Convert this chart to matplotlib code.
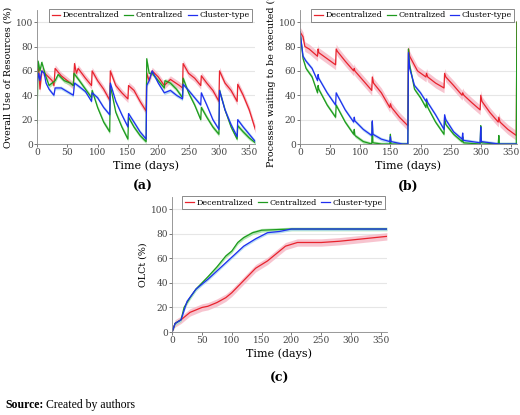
import matplotlib
matplotlib.use("Agg")
import matplotlib.pyplot as plt
import numpy as np

plt.rcParams["font.family"] = ["DejaVu Serif"]
plt.rcParams["mathtext.fontset"] = "dejavuserif"

SERIES = ["Decentralized", "Centralized", "Cluster-type"]
COLORS = ["#e8232d", "#1e9a1e", "#1f2ef0"]
BANDS = ["#f6b6c4", "#9ee09e", "#a8d4f0"]

# ---- panel (a): overall use of resources ----
a_dec_x = [0, 3, 5, 8, 15, 25, 28, 30, 40, 50, 60, 62, 65, 68, 80, 90, 91, 100, 110, 120, 121, 130, 140, 150, 151, 160, 170, 180,
           181, 185, 190, 200, 210, 220, 235, 240, 241, 250, 260, 270, 271, 280, 290, 300, 301, 310, 320, 330, 331, 340, 350, 360]
a_dec_y = [58, 62, 45, 60, 57, 52, 48, 62, 56, 52, 48, 66, 58, 62, 54, 48, 60, 52, 45, 36, 60, 48, 42, 37, 48, 44, 35, 27,
           58, 52, 60, 55, 48, 53, 48, 46, 66, 58, 54, 48, 56, 50, 44, 35, 60, 50, 44, 35, 49, 40, 28, 12]
a_cen_x = [0, 2, 5, 8, 15, 20, 25, 30, 35, 45, 55, 60, 61, 70, 80, 90, 91, 100, 110, 120, 121, 130, 140, 150, 151, 160, 170, 180,
           181, 185, 190, 200, 210, 211, 220, 230, 240, 241, 250, 260, 270, 271, 280, 290, 300, 301, 310, 320, 330, 331, 340, 350, 360]
a_cen_y = [17, 68, 60, 67, 55, 48, 50, 52, 57, 52, 50, 48, 58, 52, 45, 38, 44, 30, 18, 10, 48, 26, 14, 4, 22, 14, 7, 2,
           70, 58, 58, 52, 46, 52, 50, 45, 38, 54, 42, 32, 20, 30, 22, 14, 8, 44, 28, 14, 4, 15, 10, 5, 1]
a_clu_x = [0, 3, 5, 8, 12, 15, 20, 28, 30, 40, 50, 60, 62, 70, 80, 90, 91, 100, 110, 120, 121, 130, 140, 150, 151, 160, 170, 180,
           181, 185, 190, 200, 210, 220, 230, 240, 241, 250, 260, 270, 271, 280, 290, 300, 301, 310, 320, 330, 331, 340, 350, 360]
a_clu_y = [50, 58, 52, 60, 58, 50, 45, 40, 46, 46, 43, 40, 50, 47, 43, 35, 42, 38, 30, 24, 50, 35, 24, 14, 25, 18, 10, 4,
           48, 52, 60, 50, 42, 44, 40, 37, 49, 44, 38, 32, 42, 32, 20, 12, 44, 28, 16, 6, 20, 14, 8, 2]

# ---- panel (b): processes waiting to be executed ----
b_dec_x = [0, 5, 8, 15, 29, 30, 31, 45, 59, 60, 62, 75, 89, 90, 91, 105, 119, 120, 122, 135, 149, 150, 152, 165, 179,
           180, 182, 195, 209, 210, 212, 225, 239, 240, 242, 255, 269, 270, 272, 285, 299, 300, 302, 315, 329, 330, 332, 345, 359, 360]
b_dec_y = [92, 88, 80, 78, 72, 78, 75, 70, 65, 78, 76, 68, 60, 62, 60, 52, 44, 55, 50, 42, 30, 33, 30, 22, 15,
           78, 72, 60, 55, 58, 55, 50, 46, 58, 55, 48, 40, 42, 40, 34, 28, 40, 35, 26, 18, 22, 18, 12, 7, 100]
b_cen_x = [0, 5, 10, 20, 29, 30, 31, 45, 59, 60, 62, 75, 89, 90, 91, 105, 119, 120, 121, 135, 149, 150, 151, 179,
           180, 182, 190, 200, 209, 210, 212, 225, 239, 240, 242, 255, 269, 270, 271, 299, 300, 301, 329, 330, 331, 359, 360]
b_cen_y = [92, 70, 62, 55, 42, 48, 45, 32, 22, 32, 30, 18, 8, 12, 7, 2, 0, 18, 1, 0, 0, 8, 0, 0,
           78, 65, 45, 38, 30, 35, 30, 18, 8, 22, 16, 8, 2, 6, 1, 0, 15, 1, 0, 7, 0, 0, 100]
b_clu_x = [0, 5, 10, 20, 29, 30, 31, 45, 59, 60, 62, 75, 89, 90, 91, 105, 119, 120, 121, 135, 149, 150, 151, 170, 179,
           180, 182, 190, 200, 209, 210, 212, 225, 239, 240, 242, 255, 269, 270, 271, 299, 300, 301, 330, 360]
b_clu_y = [92, 72, 68, 62, 52, 57, 54, 42, 32, 42, 40, 28, 18, 22, 19, 12, 7, 19, 8, 4, 2, 6, 2, 0, 0,
           75, 62, 48, 42, 35, 37, 34, 24, 12, 24, 20, 10, 4, 9, 3, 1, 14, 2, 0, 0]

# ---- panel (c): OLCt ----
c_dec_x = [0, 5, 15, 30, 50, 60, 75, 90, 100, 120, 140, 160, 175, 190, 210, 250, 280, 320, 360]
c_dec_y = [0, 7, 10, 16, 20, 21, 24, 28, 32, 42, 52, 58, 64, 70, 73, 73, 74, 76, 78]
c_cen_x = [0, 5, 15, 20, 30, 40, 50, 60, 75, 90, 100, 110, 120, 135, 150, 200, 360]
c_cen_y = [0, 7, 10, 20, 28, 35, 40, 45, 53, 62, 66, 73, 77, 81, 83, 84, 84]
c_clu_x = [0, 5, 15, 25, 40, 60, 80, 100, 120, 140, 160, 180, 190, 200, 360]
c_clu_y = [0, 7, 10, 25, 35, 43, 52, 61, 70, 76, 81, 82, 83, 84, 84]

BAND_A = [3.0, 1.8, 1.5]
BAND_B = [4.0, 1.5, 1.5]
BAND_C = [3.0, 1.5, 1.2]

fig = plt.figure(figsize=(5.2, 4.15), dpi=100)


def panel(rect, data, bands, ylabel):
    ax = fig.add_axes(rect)
    for (x, y), c, b, hw, name in zip(data, COLORS, BANDS, bands, SERIES):
        x = np.array(x, float)
        y = np.array(y, float)
        ax.fill_between(x, np.clip(y - hw, 0, 100), np.clip(y + hw, 0, 100), color=b, alpha=0.8, lw=0)
        ax.plot(x, y, color=c, lw=0.9, label=name)
    ax.set_xlim(0, 360)
    ax.set_ylim(0, 110)
    ax.set_xticks(range(0, 351, 50))
    ax.set_yticks(range(0, 101, 20))
    ax.yaxis.grid(True, color="#e6e6e6", lw=0.8)
    ax.set_axisbelow(True)
    for s in ["top", "right"]:
        ax.spines[s].set_visible(False)
    for s in ["left", "bottom"]:
        ax.spines[s].set_color("#888888")
        ax.spines[s].set_linewidth(0.6)
    ax.tick_params(labelsize=6.5, length=2, width=0.5, pad=1, colors="#444444")
    ax.set_xlabel("Time (days)", fontsize=8, labelpad=2)
    ax.set_ylabel(ylabel, fontsize=6.8, labelpad=2)
    leg = ax.legend(loc="upper center", bbox_to_anchor=(0.52, 1.04), ncol=3, fontsize=5.8,
                    handlelength=1.1, handletextpad=0.3, columnspacing=0.6,
                    fancybox=False, edgecolor="#555555", borderpad=0.35)
    leg.get_frame().set_linewidth(0.6)
    return ax


panel([0.071, 0.653, 0.42, 0.323],
      [(a_dec_x, a_dec_y), (a_cen_x, a_cen_y), (a_clu_x, a_clu_y)], BAND_A,
      "Overall Use of Resources (%)")
panel([0.577, 0.653, 0.417, 0.323],
      [(b_dec_x, b_dec_y), (b_cen_x, b_cen_y), (b_clu_x, b_clu_y)], BAND_B,
      "Processes waiting to be executed (%)")
panel([0.331, 0.2, 0.413, 0.325],
      [(c_dec_x, c_dec_y), (c_cen_x, c_cen_y), (c_clu_x, c_clu_y)], BAND_C,
      "OLCt (%)")

fig.text(143 / 520, 1 - 186 / 415, "(a)", fontsize=9, weight="bold", ha="center", va="center")
fig.text(408 / 520, 1 - 186 / 415, "(b)", fontsize=9, weight="bold", ha="center", va="center")
fig.text(280 / 520, 1 - 378 / 415, "(c)", fontsize=9, weight="bold", ha="center", va="center")
fig.text(5 / 520, 1 - 405 / 415, "Source:", fontsize=8.5, weight="bold", va="center",
         family="Liberation Serif")
fig.text(46 / 520, 1 - 405 / 415, "Created by authors", fontsize=8.5, va="center",
         family="Liberation Serif")

fig.savefig("out.png", dpi=100)
